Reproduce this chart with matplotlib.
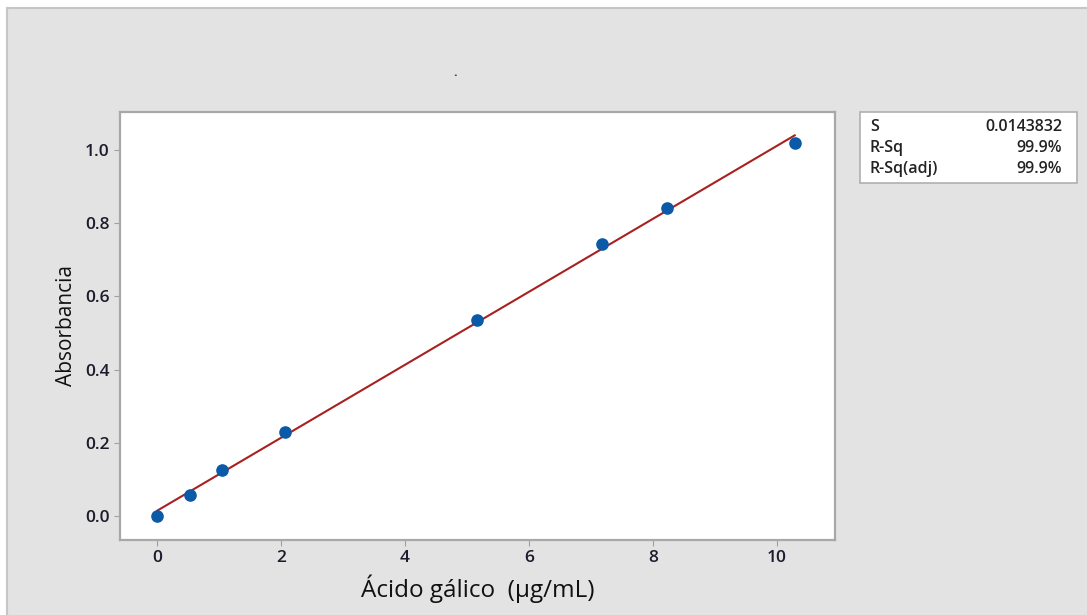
import numpy as np
import matplotlib.pyplot as plt
from matplotlib.patches import Rectangle

# datos de la curva de calibración
concentracion = [0.0, 0.53, 1.05, 2.06, 5.16, 7.18, 8.23, 10.29]
absorbancia = [0.0, 0.057, 0.126, 0.23, 0.536, 0.742, 0.842, 1.02]

stats_labels = ["S", "R-Sq", "R-Sq(adj)"]
stats_values = ["0.0143832", "99.9%", "99.9%"]

plt.rcParams['font.family'] = ['Open Sans', 'DejaVu Sans']

W, H = 1087, 615
fig = plt.figure(figsize=(W / 100, H / 100), dpi=100)
fig.patch.set_facecolor("white")

# fondo gris con borde fino (solo arriba / izquierda)
fig.patches.append(Rectangle((7 / W, -0.05), 1.05, 1.05 - 8 / H, transform=fig.transFigure,
                             facecolor="#e3e3e3", edgecolor="#c6c6c6", linewidth=1.5, zorder=-10))

ax = fig.add_axes([120 / W, 1 - 540 / H, (835 - 120) / W, (540 - 112) / H])
ax.set_facecolor("white")

# ajuste lineal
coef = np.polyfit(concentracion, absorbancia, 1)
xx = np.linspace(min(concentracion), max(concentracion), 100)
ax.plot(xx, np.polyval(coef, xx), color="#a82020", linewidth=1.5, zorder=2)
ax.scatter(concentracion, absorbancia, s=65, marker="o", color="#0a5aa8",
           edgecolors="#0a5aa8", zorder=3)

ax.set_xlim(-0.6, 10.94)
ax.set_ylim(-0.066, 1.104)
ax.set_xticks([0, 2, 4, 6, 8, 10])
ax.set_yticks([0.0, 0.2, 0.4, 0.6, 0.8, 1.0])
ax.set_yticklabels(["0.0", "0.2", "0.4", "0.6", "0.8", "1.0"])
ax.tick_params(labelsize=12.5, color="#a0a0a0", length=4, labelcolor="#1c1c2c")
for lbl in ax.get_xticklabels() + ax.get_yticklabels():
    lbl.set_fontweight("semibold")
for sp in ax.spines.values():
    sp.set_color("#a8a8a8")
    sp.set_linewidth(1.6)

ax.set_xlabel("Ácido gálico  (µg/mL)", fontsize=17.5, color="#111111", labelpad=6,
              fontweight="medium")
ax.set_ylabel("Absorbancia", fontsize=15, color="#111111", labelpad=6,
              fontweight="medium")

# puntito del título vacío
fig.text(455 / W, 1 - 79 / H, ".", fontsize=9, fontweight="bold", color="#333366",
         ha="center", va="bottom")

# recuadro de estadísticos
fig.patches.append(Rectangle((860 / W, 1 - 183 / H), 217 / W, 71 / H, transform=fig.transFigure,
                             facecolor="white", edgecolor="#b0b0b0", linewidth=1.2))
for i, (lab, val) in enumerate(zip(stats_labels, stats_values)):
    y = 1 - (127 + i * 21) / H
    fig.text(870 / W, y, lab, fontsize=11.5, fontweight="semibold", color="#222222", va="center")
    fig.text(1062 / W, y, val, fontsize=11.5, fontweight="semibold", color="#222222",
             va="center", ha="right")

fig.savefig("out.png", dpi=100, facecolor=fig.get_facecolor())
